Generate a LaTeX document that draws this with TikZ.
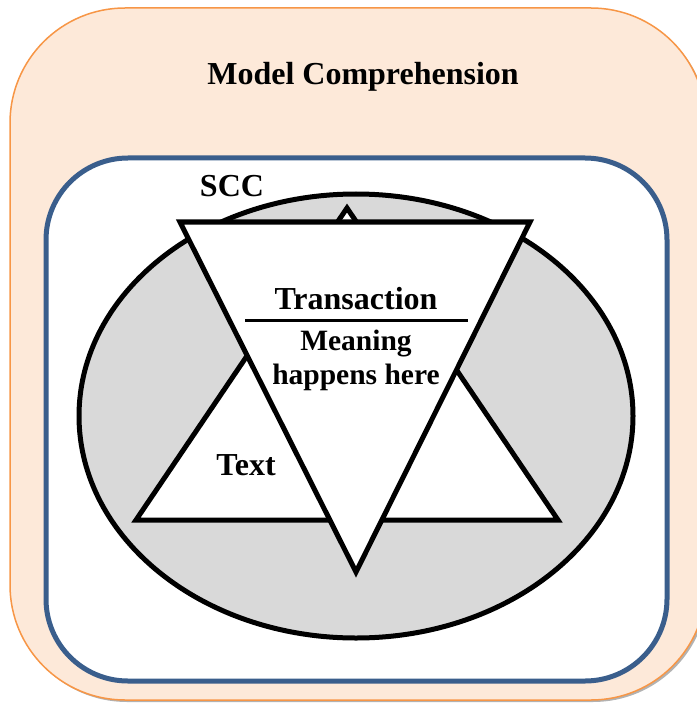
\documentclass[tikz,border=0pt]{standalone}
\usepackage{fontspec}
\setmainfont{Liberation Serif}
\definecolor{boxorange}{HTML}{F79646}
\definecolor{boxpeach}{HTML}{FDE9D9}
\definecolor{boxblue}{HTML}{3A5E8C}
\definecolor{sccgray}{HTML}{D9D9D9}
\tikzset{
	outerbox/.style={draw=boxorange, fill=boxpeach, line width=1.5pt, rounded corners=115pt},
	innerbox/.style={draw=boxblue, fill=white, line width=5pt, rounded corners=82pt},
	tri/.style={draw=black, fill=white, line width=5pt, line join=miter},
	lbl/.style={font=\bfseries\fontsize{#1}{#1}\selectfont, inner sep=0pt, anchor=base},
	lbl/.default=32
}

\begin{document}
\begin{tikzpicture}[x=1pt, y=-1pt]
	\useasboundingbox (0,0) rectangle (696,703);
	% frames
	\fill[black!30, rounded corners=115pt] (12,10) rectangle (708,702);
	\draw[outerbox] (10,8) rectangle (706,700);
	\draw[innerbox] (46,158) rectangle (667,681);
	\node[lbl] (title) at (363,85) {Model Comprehension};

	% SCC ellipse with the two triangles
	\draw[fill=sccgray, line width=5pt] (356,416) ellipse [x radius=277, y radius=222];
	\coordinate (t1) at (347,208);
	\coordinate (t2) at (136,520);
	\coordinate (t3) at (558,520);
	\draw[tri] (t1) -- (t2) -- (t3) -- cycle;
	\coordinate (v1) at (180,222);
	\coordinate (v2) at (530,222);
	\coordinate (v3) at (356,572);
	\draw[tri] (v1) -- (v2) -- (v3) -- cycle;

	\node[lbl] (scc) at (232,197) {SCC};
	\node[lbl] (trans) at (356,309) {Transaction};
	\coordinate (bar1) at (245,320);
	\coordinate (bar2) at (468,320);
	\draw[line width=3pt] (bar1) -- (bar2);
	\node[lbl=29.5] (mean) at (356,350) {Meaning};
	\node[lbl=29.5] (here) at (356,384) {happens here};
	\node[lbl] (text) at (246,475) {Text};
\end{tikzpicture}
\end{document}
